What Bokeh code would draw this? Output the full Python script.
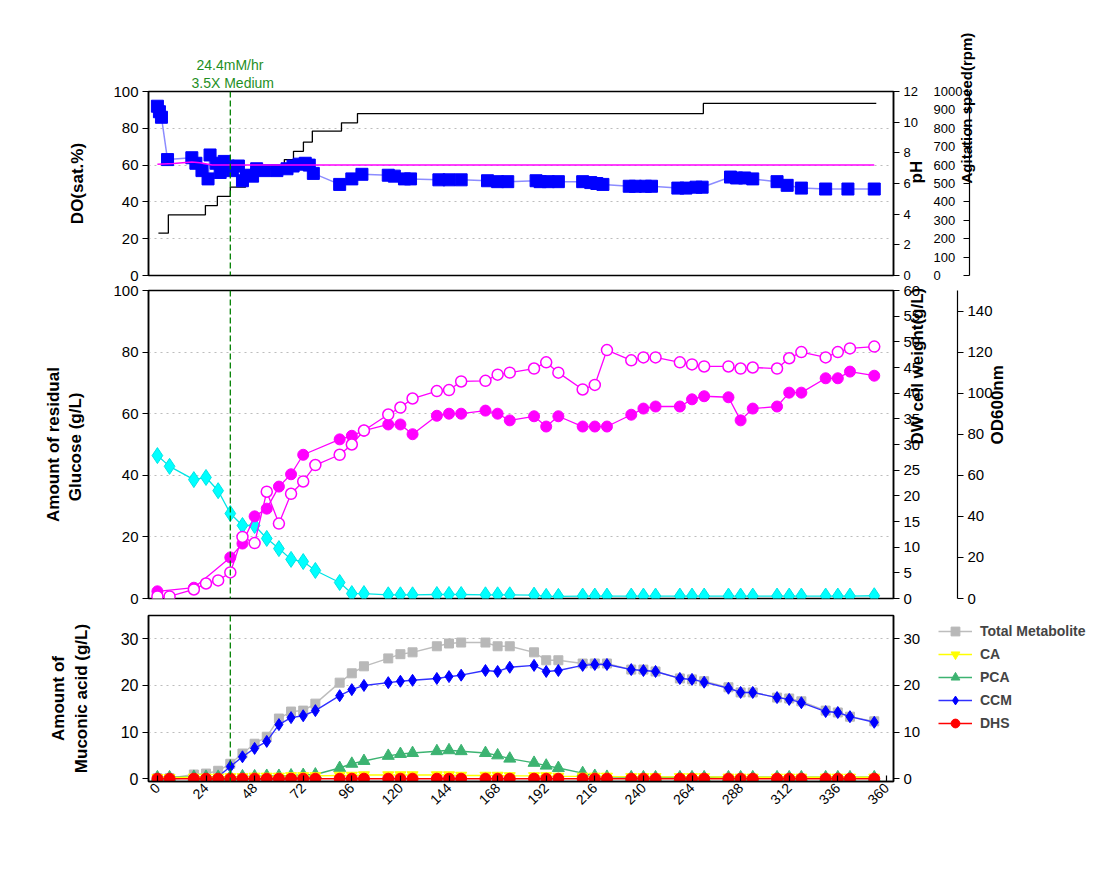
import math
from bokeh.plotting import figure
from bokeh.layouts import column, row
from bokeh.models import (Range1d, LinearAxis, FixedTicker, Span, Title, Legend, LegendItem)
from bokeh.embed import file_html
from bokeh.resources import INLINE

# ---------------- data ----------------
time_h = [0, 6, 18, 24, 30, 36, 42, 48, 54, 60,
          66, 72, 78, 90, 96, 102, 114, 120, 126, 138,
          144, 150, 162, 168, 174, 186, 192, 198, 210, 216,
          222, 234, 240, 246, 258, 264, 270, 282, 288, 294,
          306, 312, 318, 330, 336, 342, 354]

do_time = [0, 1, 2, 5, 17, 19, 22, 25, 26, 29, 31, 33, 35, 37, 40, 42, 44, 47, 49, 53,
           59, 64, 67, 70, 73, 75, 77, 90, 96, 101, 114, 117, 122, 125, 139, 144, 150, 163,
           168, 173, 187, 189, 193, 198, 210, 214, 217, 220, 233, 236, 241, 244, 257, 261,
           266, 269, 283, 286, 290, 294, 306, 311, 318, 330, 341, 354]
do_sat = [92, 89, 86, 63, 64, 61, 57, 52.5, 65.5, 61, 56, 62, 59.5, 57, 59.5, 51.5, 54.5, 54, 58, 57,
          57, 58, 59.5, 60.5, 61, 60, 55.5, 49.5, 52.5, 55, 54.5, 54, 52.5, 52.5, 52, 52, 52, 51.5,
          51, 51, 51.5, 51, 51, 51, 51, 50.5, 50, 49.5, 48.5, 48.5, 48.5, 48.5, 47.5, 47.5,
          48, 48, 53.5, 53, 53, 52.5, 51, 49, 47.5, 47, 47, 47]

ph_time = [0, 8, 17, 21, 27, 40, 80, 160, 250, 354]
ph_val = [7.25, 7.3, 7.4, 7.35, 7.2, 7.2, 7.2, 7.2, 7.2, 7.2]

agit_time = [0.5, 5.4, 23.7, 29.6, 36, 43.5, 46, 62.7, 67.2, 72.1, 76.5, 90.9, 98.8, 269.6, 355]
agit_rpm = [230, 330, 380, 430, 480, 530, 580, 630, 675, 725, 785, 830, 880, 935, 935]

glucose = [46.4, 42.9, 38.6, 39.3, 35.0, 27.6, 23.7, 23.7, 19.5, 16.2,
           12.7, 12.0, 9.1, 5.2, 1.6, 1.6, 1.2, 1.2, 1.2, 1.3,
           1.3, 1.3, 1.2, 1.2, 1.2, 1.1, 0.7, 0.7, 0.8, 0.8,
           0.8, 0.8, 0.8, 0.8, 0.8, 0.8, 0.8, 0.8, 0.8, 0.8,
           0.8, 0.8, 0.8, 0.8, 0.8, 0.8, 0.9]

od600 = [1, 1, 4.4, 7.3, 8.8, 12.7, 30, 27, 52, 36.5,
         51, 57, 65, 70, 75, 81.8, 89.6, 93, 97.4, 101,
         101.5, 105.7, 106, 109, 110, 112, 115, 110, 101.8, 104,
         121, 116, 117.4, 117.4, 115, 114, 113, 113, 112, 112.5,
         112, 117, 120, 117.4, 120, 121.8, 122.7]

dcw_time = [0, 18, 36, 42, 48, 54, 60, 66, 72, 90,
            96, 102, 114, 120, 126, 138, 144, 150, 162, 168,
            174, 186, 192, 198, 210, 216, 222, 234, 240, 246,
            258, 264, 270, 282, 288, 294, 306, 312, 318, 330,
            336, 342, 354]
dcw = [1.4, 2.1, 8.0, 10.7, 16.0, 17.5, 21.8, 24.2, 28.0, 31.0,
       31.7, 32.7, 33.9, 33.9, 32.0, 35.6, 36.0, 36.0, 36.6, 36.0,
       34.7, 35.5, 33.5, 35.5, 33.5, 33.5, 33.5, 35.8, 37.0, 37.4,
       37.4, 38.8, 39.4, 39.2, 34.7, 37.0, 37.4, 40.1, 40.1, 42.9,
       42.9, 44.2, 43.4]

total_met = [0.1, 0.1, 0.9, 1.1, 1.7, 3.2, 5.4, 7.5, 9.0, 12.9,
             14.4, 14.6, 16.1, 20.6, 22.6, 24.1, 25.8, 26.7, 27.1, 28.4,
             29.0, 29.2, 29.2, 28.4, 28.4, 27.1, 25.4, 25.4, 24.7, 24.7,
             24.7, 23.4, 23.4, 23.0, 21.5, 21.3, 20.9, 19.6, 18.5, 18.5,
             17.4, 17.2, 16.6, 14.6, 14.2, 13.3, 12.3]
ccm = [0.0, 0.0, 0.2, 0.2, 0.4, 2.6, 4.7, 6.5, 8.0, 11.6,
       13.1, 13.5, 14.6, 17.8, 19.1, 20.0, 20.6, 20.9, 21.1, 21.5,
       21.9, 22.2, 23.2, 23.0, 23.9, 24.3, 23.0, 23.2, 24.3, 24.5,
       24.5, 23.4, 23.2, 23.0, 21.5, 21.3, 20.7, 19.4, 18.5, 18.5,
       17.4, 17.0, 16.3, 14.4, 14.2, 13.3, 12.1]
pca = [0.3, 0.3, 0.4, 0.4, 0.4, 0.4, 0.5, 0.5, 0.6, 0.6,
       0.7, 0.8, 0.9, 2.3, 3.2, 3.8, 4.9, 5.3, 5.5, 5.9,
       6.1, 5.9, 5.5, 5.0, 4.3, 3.4, 2.8, 2.3, 1.2, 0.6,
       0.4, 0.3, 0.3, 0.3, 0.3, 0.3, 0.3, 0.3, 0.3, 0.3,
       0.3, 0.3, 0.3, 0.3, 0.3, 0.3, 0.3]
ca = [0.2, 0.2, 0.3, 0.3, 0.3, 0.4, 0.4, 0.5, 0.5, 0.5,
      0.6, 0.6, 0.6, 0.7, 0.7, 0.8, 0.8, 0.8, 0.8, 0.8,
      0.8, 0.7, 0.7, 0.7, 0.6, 0.6, 0.6, 0.5, 0.5, 0.5,
      0.5, 0.4, 0.4, 0.4, 0.4, 0.4, 0.4, 0.3, 0.3, 0.3,
      0.3, 0.3, 0.3, 0.3, 0.3, 0.3, 0.3]
dhs = [0.0, 0.0, 0.0, 0.0, 0.0, 0.0, 0.0, 0.0, 0.0, 0.0,
       0.0, 0.0, 0.0, 0.0, 0.0, 0.0, 0.0, 0.0, 0.0, 0.0,
       0.0, 0.0, 0.0, 0.0, 0.0, 0.0, 0.0, 0.0, 0.0, 0.0,
       0.0, 0.0, 0.0, 0.0, 0.0, 0.0, 0.0, 0.0, 0.0, 0.0,
       0.0, 0.0, 0.0, 0.0, 0.0, 0.0, 0.0]

metabolite_names = ["Total Metabolite", "CA", "PCA", "CCM", "DHS"]

x_ticks = [0, 24, 48, 72, 96, 120, 144, 168, 192, 216, 240, 264, 288, 312, 336, 360]
do_ticks = [0, 20, 40, 60, 80, 100]
ph_ticks = [0, 2, 4, 6, 8, 10, 12]
agit_ticks = [0, 100, 200, 300, 400, 500, 600, 700, 800, 900, 1000]
glc_ticks = [0, 20, 40, 60, 80, 100]
dcw_ticks = [0, 5, 10, 15, 20, 25, 30, 35, 40, 45, 50, 55, 60]
od_ticks = [0, 20, 40, 60, 80, 100, 120, 140]
mu_ticks = [0, 10, 20, 30]
medium_time = 36

# ---------------- helpers ----------------
FONT = "Liberation Sans"
X0, X1 = -4.4, 363.5
FRAME_W = 745


def make_fig(frame_h, y0, y1, btop, bbot, xaxis, bright=215):
    p = figure(frame_width=FRAME_W, frame_height=frame_h,
               x_range=Range1d(X0, X1), y_range=Range1d(y0, y1),
               x_axis_location="below" if xaxis else None,
               output_backend="svg", toolbar_location=None,
               min_border_left=148, min_border_right=bright,
               min_border_top=btop, min_border_bottom=bbot)
    p.outline_line_color = "black"
    p.outline_line_width = 1.5
    p.background_fill_color = "white"
    p.border_fill_color = "white"
    p.xgrid.visible = False
    p.ygrid.grid_line_color = "#bdbdbd"
    p.ygrid.grid_line_dash = "2 4"
    p.ygrid.grid_line_width = 1
    return p


def style_axis(ax, size="15px"):
    ax.axis_line_color = "black"
    ax.axis_line_width = 1.5
    ax.major_tick_line_color = "black"
    ax.major_tick_line_width = 1.2
    ax.major_tick_out = 6
    ax.major_tick_in = 0
    ax.minor_tick_line_color = None
    ax.minor_tick_out = 0
    ax.minor_tick_in = 0
    ax.major_label_text_font = FONT
    ax.major_label_text_font_size = size
    ax.major_label_text_color = "black"
    ax.major_label_standoff = 4
    ax.axis_label_text_font = FONT
    ax.axis_label_text_font_size = "17px"
    ax.axis_label_text_font_style = "bold"
    ax.axis_label_text_color = "black"


def upward(ax):
    # right-hand titles read bottom-to-top as in the reference
    try:
        ax.axis_label_orientation = math.pi / 2
    except Exception:
        pass


def spacer(y_range_name, standoff, size="17px"):
    return LinearAxis(y_range_name=y_range_name, ticker=FixedTicker(ticks=[]), axis_label=" ",
                      axis_label_standoff=standoff, axis_line_color=None,
                      major_tick_line_color=None, minor_tick_line_color=None,
                      major_tick_out=0, major_tick_in=0, minor_tick_out=0, minor_tick_in=0,
                      major_label_standoff=0, axis_label_text_font_size=size)


def green_span(p):
    p.add_layout(Span(location=medium_time, dimension="height", line_color="#008000",
                      line_dash="6 3", line_width=1.3))


# ---------------- top panel: DO / pH / agitation ----------------
p1 = make_fig(184, 0, 100, 91, 8, False)
style_axis(p1.yaxis[0])
p1.yaxis[0].ticker = FixedTicker(ticks=do_ticks)
p1.yaxis[0].axis_label = "DO(sat.%)"
p1.yaxis[0].axis_label_standoff = 23
p1.ygrid.ticker = FixedTicker(ticks=[20, 40, 60, 80])
p1.extra_y_ranges = {"ph": Range1d(0, 12), "ag": Range1d(0, 1000)}

ax_ph = LinearAxis(y_range_name="ph", ticker=FixedTicker(ticks=ph_ticks))
style_axis(ax_ph, "13px")
ax_ph.axis_label = "pH"
ax_ph.axis_label_standoff = -4
upward(ax_ph)
p1.add_layout(ax_ph, "right")
p1.add_layout(spacer("ph", 9), "right")

ax_ag = LinearAxis(y_range_name="ag", ticker=FixedTicker(ticks=agit_ticks))
style_axis(ax_ag, "13px")
ax_ag.major_tick_out = 0
ax_ag.major_tick_in = 6
ax_ag.major_label_standoff = -36
ax_ag.axis_line_width = 1.2
ax_ag.axis_label = "Agitation speed(rpm)"
ax_ag.axis_label_text_font_size = "15px"
ax_ag.axis_label_standoff = 1
upward(ax_ag)
p1.add_layout(ax_ag, "right")

t1 = Title(text="3.5X Medium", align="left", offset=43, standoff=1,
           text_font=FONT, text_font_size="14px", text_font_style="normal", text_color="#1f8f1f")
t2 = Title(text="24.4mM/hr", align="left", offset=48, standoff=0,
           text_font=FONT, text_font_size="14px", text_font_style="normal", text_color="#1f8f1f")
p1.add_layout(t1, "above")
p1.add_layout(t2, "above")

p1.step(agit_time, agit_rpm, mode="after", y_range_name="ag", line_color="black", line_width=1.3)
p1.line(do_time, do_sat, line_color="#6f6fff", line_width=1.5, line_alpha=0.8)
p1.scatter(do_time, do_sat, marker="square", size=12, fill_color="#0000ff", line_color="#0000ff")
p1.line(ph_time, ph_val, y_range_name="ph", line_color="#ff00ff", line_width=1.5)
green_span(p1)

# ---------------- middle panel: glucose / DCW / OD ----------------
p2 = make_fig(308, 0, 100, 7, 8, False)
style_axis(p2.yaxis[0])
p2.yaxis[0].ticker = FixedTicker(ticks=glc_ticks)
p2.yaxis[0].axis_label = "Amount of residual\nGlucose  (g/L)"
p2.yaxis[0].axis_label_standoff = 25
p2.ygrid.ticker = FixedTicker(ticks=[20, 40, 60, 80])
p2.extra_y_ranges = {"dcw": Range1d(0, 60), "od": Range1d(0, 150)}

ax_dcw = LinearAxis(y_range_name="dcw", ticker=FixedTicker(ticks=dcw_ticks))
style_axis(ax_dcw)
ax_dcw.axis_label = "DW cell weight(g/L)"
ax_dcw.axis_label_standoff = -6
upward(ax_dcw)
p2.add_layout(ax_dcw, "right")
p2.add_layout(spacer("dcw", 4, "10px"), "right")

ax_od = LinearAxis(y_range_name="od", ticker=FixedTicker(ticks=od_ticks))
style_axis(ax_od)
ax_od.axis_line_width = 1.2
ax_od.axis_label = "OD600nm"
ax_od.axis_label_standoff = 2
upward(ax_od)
p2.add_layout(ax_od, "right")

p2.line(time_h, glucose, line_color="#00e5e5", line_width=1.3)
p2.scatter(time_h, glucose, marker="diamond", size=16, fill_color="#00ffff", line_color="#00e5e5")
p2.line(dcw_time, dcw, y_range_name="dcw", line_color="#ff00ff", line_width=1.3)
p2.scatter(dcw_time, dcw, y_range_name="dcw", marker="circle", size=11,
           fill_color="#ff00ff", line_color="#ff00ff")
p2.line(time_h, od600, y_range_name="od", line_color="#ff00ff", line_width=1.3)
p2.scatter(time_h, od600, y_range_name="od", marker="circle", size=11,
           fill_color="white", line_color="#ff00ff", line_width=1.5)
green_span(p2)

# ---------------- bottom panel: metabolites ----------------
p3 = make_fig(166, -0.6, 35, 9, 88, True, bright=40)
style_axis(p3.yaxis[0], "16px")
p3.yaxis[0].ticker = FixedTicker(ticks=mu_ticks)
p3.yaxis[0].axis_label = "Amount of\nMuconic acid (g/L)"
p3.yaxis[0].axis_label_standoff = 27
p3.ygrid.ticker = FixedTicker(ticks=[10, 20, 30])
ax_r3 = LinearAxis(ticker=FixedTicker(ticks=mu_ticks))
style_axis(ax_r3)
p3.add_layout(ax_r3, "right")
xax = p3.xaxis[0]
style_axis(xax, "14px")
xax.ticker = FixedTicker(ticks=x_ticks)
xax.major_tick_out = 0
xax.major_tick_in = 6
xax.major_label_orientation = math.pi / 4

STY = {
    "Total Metabolite": dict(lc="#bdbdbd", marker="square", size=9, fc="#b8b8b8"),
    "CA": dict(lc="#ffff00", marker="inverted_triangle", size=11, fc="#ffff00"),
    "PCA": dict(lc="#3cb371", marker="triangle", size=12, fc="#3cb371"),
    "CCM": dict(lc="#3030ff", marker="diamond", size=12, fc="#0000ff"),
    "DHS": dict(lc="#ff0000", marker="circle", size=11, fc="#ff0000"),
}
series = {"Total Metabolite": total_met, "CA": ca, "PCA": pca, "CCM": ccm, "DHS": dhs}
for name in ["Total Metabolite", "CCM", "PCA", "CA", "DHS"]:
    s = STY[name]
    p3.line(time_h, series[name], line_color=s["lc"], line_width=1.4)
    p3.scatter(time_h, series[name], marker=s["marker"], size=s["size"],
               fill_color=s["fc"], line_color=s["fc"])
green_span(p3)

# legend lives in its own small canvas to the right of the bottom panel;
# its sample renderers hold the series but sit outside that canvas' visible range
lf = figure(width=180, height=263, x_range=Range1d(-1001, -1000), y_range=Range1d(-1001, -1000),
            x_axis_location=None, y_axis_location=None, output_backend="svg",
            toolbar_location=None, min_border=0, outline_line_color=None)
lf.grid.visible = False
items = []
for name in metabolite_names:
    s = STY[name]
    r1 = lf.line(time_h, series[name], line_color=s["lc"], line_width=1.4)
    r2 = lf.scatter(time_h, series[name], marker=s["marker"], size=s["size"],
                    fill_color=s["fc"], line_color=s["fc"])
    items.append(LegendItem(label=name, renderers=[r1, r2], index=0))
legend = Legend(items=items, location="top_left", margin=5, padding=23, spacing=1,
                glyph_width=34, glyph_height=22, label_height=22, label_standoff=8,
                label_text_font=FONT, label_text_font_size="14px", label_text_font_style="bold",
                background_fill_alpha=0, border_line_color=None)
lf.add_layout(legend, "center")

layout = column(p1, p2, row(p3, lf, spacing=0), spacing=0)
open("out.html", "w").write(file_html(layout, INLINE))
